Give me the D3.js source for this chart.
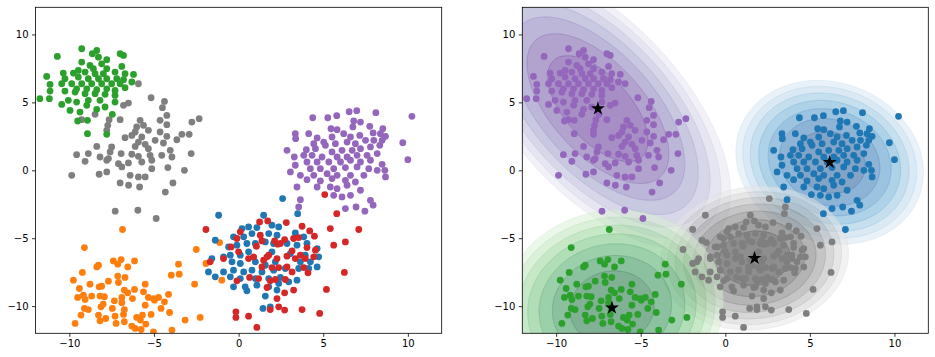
<!DOCTYPE html>
<html><head><meta charset="utf-8">
<script src="https://cdn.jsdelivr.net/npm/d3@7"></script>
<style>
body{margin:0;background:#fff}
svg{display:block}
</style>
</head><body>
<svg id="chart" width="935" height="357"></svg>
<script>
// ---------- data ----------
const greenPts = [[-9.27,8.95],[-10.71,8.38],[-8.64,8.58],[-8.38,8.82],[-8.28,8.33],[-7.00,8.58],[-6.80,8.46],[-7.79,8.14],[-9.27,7.97],[-8.78,7.72],[-8.09,7.84],[-8.58,7.48],[-7.79,7.48],[-6.90,7.65],[-9.47,7.35],[-10.36,7.16],[-9.76,7.16],[-9.07,7.23],[-8.48,7.11],[-7.99,7.11],[-7.30,7.23],[-6.71,7.11],[-6.21,7.06],[-11.34,6.91],[-10.26,6.74],[-9.47,6.86],[-8.88,6.74],[-8.28,6.74],[-7.79,6.74],[-7.20,6.74],[-6.80,6.67],[-6.31,6.50],[-11.14,6.32],[-10.45,6.37],[-9.86,6.37],[-9.27,6.37],[-8.68,6.37],[-8.09,6.37],[-7.50,6.37],[-7.00,6.37],[-9.57,6.00],[-8.97,6.00],[-8.38,5.93],[-7.79,6.00],[-7.30,5.88],[-6.71,6.08],[-11.14,5.83],[-10.26,5.83],[-9.66,5.76],[-9.07,5.64],[-8.48,5.64],[-7.89,5.59],[-7.30,5.51],[-11.74,5.27],[-11.18,5.27],[-10.06,5.15],[-9.57,5.02],[-8.88,5.15],[-8.19,5.15],[-7.30,5.02],[-10.45,4.85],[-8.97,4.78],[-9.96,4.41],[-8.38,4.49],[-7.89,4.66],[-9.37,4.29],[-7.46,4.12],[-9.51,3.63],[-8.93,3.68],[-8.93,2.70],[-7.79,2.65]];
const greyPts = [[-5.92,6.37],[-5.17,5.34],[-4.38,5.07],[-6.51,4.95],[-6.80,4.78],[-4.50,4.61],[-4.24,4.04],[-8.48,4.12],[-9.27,3.73],[-7.00,3.73],[-7.65,3.73],[-5.82,3.68],[-4.64,3.68],[-2.76,3.55],[-2.33,3.80],[-7.73,3.31],[-6.02,3.19],[-5.62,3.31],[-4.24,3.36],[-7.79,2.94],[-5.33,2.94],[-6.11,2.82],[-6.71,2.40],[-6.31,2.57],[-5.72,2.45],[-4.64,2.82],[-4.24,2.50],[-3.35,2.65],[-2.92,2.65],[-3.65,2.25],[-5.92,2.08],[-4.93,2.21],[-4.44,2.01],[-8.38,1.76],[-7.50,1.72],[-6.11,1.76],[-5.52,1.91],[-5.33,1.59],[-4.04,1.47],[-7.59,1.35],[-6.94,1.23],[-6.31,1.18],[-9.57,1.15],[-8.88,1.23],[-8.19,0.98],[-7.69,0.86],[-5.92,1.03],[-5.23,1.10],[-4.54,1.10],[-2.80,1.23],[-3.94,0.98],[-9.07,0.66],[-7.10,0.49],[-6.51,0.54],[-5.72,0.61],[-5.13,0.74],[-7.79,0.74],[-6.90,0.25],[-5.13,0.12],[-4.18,0.20],[-3.20,0.00],[-9.86,-0.37],[-8.24,-0.29],[-7.79,-0.12],[-6.41,-0.37],[-5.92,-0.49],[-5.52,-0.49],[-7.00,-0.93],[-6.50,-1.10],[-5.85,-1.23],[-4.33,-1.60],[-3.88,-0.93],[-7.29,-3.01],[-5.95,-2.94],[-4.87,-3.55]];
const purplePts = [[4.38,3.87],[5.27,3.87],[5.80,4.02],[6.53,4.31],[6.98,4.39],[8.11,4.24],[10.24,3.97],[6.80,3.63],[7.20,3.55],[6.75,3.19],[7.75,3.24],[5.46,3.06],[5.82,2.99],[8.52,3.06],[3.35,2.70],[4.14,2.70],[4.64,2.38],[5.03,2.08],[5.52,2.45],[6.21,2.70],[6.61,2.45],[7.16,2.57],[7.95,2.75],[8.38,2.70],[8.68,2.50],[9.70,2.03],[3.37,2.33],[4.44,1.96],[5.13,1.84],[5.72,1.96],[6.41,2.08],[6.90,1.96],[7.50,2.21],[7.99,2.21],[8.48,2.21],[2.86,1.47],[4.00,1.52],[4.54,1.59],[5.52,1.35],[6.11,1.47],[6.71,1.47],[7.20,1.59],[7.79,1.72],[8.34,1.84],[3.29,0.98],[3.85,1.10],[4.34,1.10],[4.93,0.98],[5.82,0.98],[6.41,0.98],[7.00,1.10],[7.59,1.10],[8.19,1.23],[10.0,0.78],[4.04,0.61],[4.64,0.61],[5.33,0.61],[6.02,0.61],[6.61,0.74],[7.20,0.61],[7.79,0.74],[8.48,0.44],[3.35,0.37],[3.06,-0.12],[4.24,0.12],[4.83,0.12],[5.62,0.12],[6.31,0.20],[7.00,0.25],[7.69,0.12],[8.19,0.00],[8.64,0.00],[3.65,-0.37],[4.44,-0.37],[5.23,-0.25],[5.82,-0.37],[6.61,-0.37],[7.40,-0.37],[8.68,-0.49],[4.04,-0.69],[4.83,-0.78],[5.52,-0.61],[6.31,-0.74],[6.90,-0.86],[3.45,-1.23],[4.64,-1.23],[5.42,-1.23],[6.41,-1.10],[7.20,-1.47],[3.65,-2.16],[5.62,-1.84],[6.11,-1.96],[6.61,-1.84],[7.79,-2.21],[3.55,-2.70],[6.31,-2.82],[6.94,-2.70],[7.46,-3.01],[7.95,-2.57],[5.82,-1.35]];
const bluePts = [[2.60,-2.08],[3.49,-3.19],[-1.18,-3.31],[1.48,-3.31],[-1.38,-5.15],[0.20,-4.29],[0.59,-4.17],[1.08,-4.22],[1.97,-4.04],[2.37,-4.17],[-0.30,-4.90],[0.30,-4.90],[0.79,-4.66],[1.78,-4.66],[2.27,-4.78],[3.35,-4.61],[3.85,-4.90],[4.64,-5.76],[-0.59,-5.64],[-0.10,-5.51],[0.49,-5.39],[0.99,-5.39],[1.58,-5.27],[2.07,-5.39],[2.86,-5.39],[3.45,-5.51],[4.04,-5.39],[-0.49,-6.25],[0.10,-6.25],[0.59,-6.00],[1.97,-6.00],[3.06,-6.13],[3.94,-6.25],[4.73,-6.37],[-1.58,-6.50],[-0.89,-6.37],[-0.39,-6.74],[0.10,-6.86],[0.99,-6.74],[1.58,-6.99],[2.17,-6.74],[3.65,-6.74],[4.24,-6.74],[-1.78,-7.48],[-1.38,-7.84],[-0.89,-7.48],[-0.30,-7.35],[0.30,-7.48],[0.79,-7.35],[1.38,-7.48],[2.07,-7.35],[2.76,-7.23],[3.55,-7.23],[4.14,-7.23],[4.64,-7.11],[-0.49,-7.84],[0.10,-7.97],[0.99,-7.97],[1.78,-7.97],[2.47,-7.89],[3.45,-8.09],[-0.30,-8.58],[0.39,-8.58],[1.08,-8.46],[1.78,-8.58],[2.37,-8.33],[2.96,-8.21],[0.49,-8.87],[1.58,-9.26],[2.27,-8.82],[1.44,-10.17],[1.87,-10.05]];
const redPts = [[5.09,-1.79],[5.80,-3.19],[7.10,-4.36],[-1.93,-4.36],[1.24,-3.80],[1.72,-3.73],[2.82,-3.85],[0.10,-4.53],[1.28,-4.78],[3.75,-4.12],[4.20,-4.46],[4.48,-4.85],[5.42,-4.29],[6.31,-5.27],[5.62,-5.51],[-0.10,-5.02],[1.38,-5.20],[2.13,-5.20],[2.31,-5.44],[2.72,-5.10],[3.25,-5.02],[3.55,-4.95],[-0.45,-5.64],[0.00,-6.00],[1.05,-5.59],[1.68,-6.37],[2.47,-5.39],[3.16,-5.93],[4.04,-5.69],[4.54,-5.88],[4.44,-6.37],[-1.68,-6.74],[-0.89,-6.50],[0.59,-6.50],[0.89,-6.37],[1.48,-6.62],[1.78,-6.25],[2.27,-6.50],[2.86,-6.32],[3.35,-6.50],[3.65,-6.25],[3.94,-6.50],[1.38,-7.11],[1.97,-7.16],[2.37,-7.16],[2.86,-7.11],[3.85,-7.16],[4.10,-7.55],[3.16,-7.48],[0.65,-7.89],[1.18,-7.97],[1.87,-8.14],[2.17,-8.04],[2.76,-8.04],[-0.10,-8.14],[6.25,-7.52],[1.68,-8.63],[2.27,-9.44],[2.72,-9.02],[3.25,-8.82],[5.19,-8.77],[1.87,-10.25],[2.37,-10.05],[2.72,-10.29],[3.75,-10.25],[4.79,-10.54],[-0.16,-10.42],[-0.16,-10.83],[0.59,-10.74],[1.08,-11.57]];
const orangePts = [[-6.86,-4.36],[-9.11,-5.69],[-2.50,-5.83],[-7.40,-6.67],[-6.94,-6.57],[-6.15,-6.67],[-8.38,-7.11],[-8.28,-6.99],[-7.14,-6.91],[-6.55,-7.11],[-3.55,-6.91],[-1.93,-6.86],[-9.23,-7.52],[-9.76,-8.09],[-7.14,-7.79],[-6.71,-7.89],[-3.98,-7.72],[-3.51,-7.65],[-7.69,-8.16],[-8.78,-8.38],[-8.24,-8.58],[-8.09,-8.53],[-7.10,-8.26],[-5.52,-8.38],[-2.60,-8.38],[-9.41,-8.70],[-6.75,-8.82],[-6.15,-8.77],[-9.51,-9.36],[-9.17,-9.19],[-9.07,-9.51],[-8.68,-9.26],[-8.19,-9.26],[-7.93,-9.31],[-7.34,-9.61],[-6.90,-9.36],[-6.55,-9.02],[-6.27,-9.44],[-5.62,-8.95],[-5.33,-9.36],[-5.03,-9.44],[-4.73,-9.36],[-4.14,-9.14],[-4.38,-9.68],[-8.13,-10.05],[-8.00,-9.85],[-6.90,-9.75],[-5.52,-9.93],[-4.97,-9.56],[-9.11,-10.17],[-8.88,-10.25],[-7.46,-10.17],[-6.75,-10.25],[-4.58,-10.17],[-4.08,-10.47],[-9.31,-10.66],[-8.28,-10.66],[-7.30,-10.74],[-6.80,-10.61],[-6.02,-10.83],[-5.68,-10.66],[-5.17,-10.61],[-3.16,-11.03],[-2.27,-10.83],[-9.66,-11.27],[-8.19,-11.08],[-7.85,-10.91],[-7.24,-11.27],[-6.75,-11.15],[-6.31,-11.47],[-5.80,-11.03],[-5.48,-11.32],[-6.11,-11.64],[-5.76,-11.72],[-5.03,-11.90],[-3.94,-11.76],[-1.12,-5.32],[-0.99,-8.09]];

const leftGroups = ["grey","orange","green","purple","blue","red"];
const groupColors = {blue:"#1f77b4",orange:"#ff7f0e",green:"#2ca02c",red:"#d62728",purple:"#9467bd",grey:"#7f7f7f"};

// Gaussian mixture components (right panel)
const compNames   = ["purple","blue","grey","green"];
const compWeights = [0.31,0.22,0.30,0.17];
const compMeans   = [[-7.53,4.54],[6.17,0.59],[1.73,-6.47],[-6.70,-10.12]];
const compCovs    = [[[4.4,-3.5],[-3.5,7.6]],[[2.2,-0.3],[-0.3,2.6]],[[2.2,0.15],[0.15,2.0]],[[3.1,0.2],[0.2,3.7]]];
const compCmaps   = ["Purples","Blues","Greys","Greens"];

const xTicks = [-10,-5,0,5,10];
const yTicks = [-10,-5,0,5,10];
const domain = [-12,12];

// ---------- layout ----------
const svg = d3.select("#chart");
const panelH = {top:7.3, bottom:333.3};
const panels = [{left:35.5,right:441.7},{left:522.3,right:928.3}];
const ptsByGroup = {green:greenPts,grey:greyPts,purple:purplePts,blue:bluePts,red:redPts,orange:orangePts};

function fmt(d){ return d<0 ? "\u2212"+Math.abs(d) : String(d); }

function makeAxes(p, idx){
  const x = d3.scaleLinear().domain(domain).range([p.left,p.right]);
  const y = d3.scaleLinear().domain(domain).range([panelH.bottom,panelH.top]);
  const g = svg.append("g");
  g.append("clipPath").attr("id","clip"+idx).append("rect")
    .attr("x",p.left).attr("y",panelH.top).attr("width",p.right-p.left).attr("height",panelH.bottom-panelH.top);
  return {x,y,g};
}

function drawAxes(a){
  const gx = a.g.append("g").attr("transform",`translate(0,${panelH.bottom})`)
    .call(d3.axisBottom(a.x).tickValues(xTicks).tickSize(3.5).tickPadding(3.5).tickFormat(fmt));
  const gy = a.g.append("g").attr("transform",`translate(${a.x.range()[0]},0)`)
    .call(d3.axisLeft(a.y).tickValues(yTicks).tickSize(3.5).tickPadding(3.5).tickFormat(fmt));
  [gx,gy].forEach(s=>{
    s.select(".domain").remove();
    s.attr("font-family","DejaVu Sans").attr("font-size",10);
    s.selectAll("line").attr("stroke","#000").attr("stroke-width",0.8);
    s.selectAll("text").attr("fill","#000");
  });
  const [x0,x1]=a.x.range();
  a.g.append("rect").attr("x",x0).attr("y",panelH.top).attr("width",x1-x0).attr("height",panelH.bottom-panelH.top)
    .attr("fill","none").attr("stroke","#000").attr("stroke-width",0.8);
}

const R = 3.4;

// ---------- left panel ----------
const A = makeAxes(panels[0],0);
const lp = A.g.append("g").attr("clip-path","url(#clip0)");
leftGroups.forEach(name=>{
  lp.selectAll(null).data(ptsByGroup[name]).enter().append("circle")
    .attr("cx",d=>A.x(d[0])).attr("cy",d=>A.y(d[1])).attr("r",R).attr("fill",groupColors[name]);
});
drawAxes(A);

// ---------- right panel ----------
const B = makeAxes(panels[1],1);
const rp = B.g.append("g").attr("clip-path","url(#clip1)");

function eig2(c){
  const a=c[0][0], b=c[0][1], d=c[1][1];
  const tr=a+d, det=a*d-b*b, disc=Math.sqrt(tr*tr/4-det);
  const l1=tr/2+disc, l2=tr/2-disc;
  let v1 = Math.abs(b)>1e-12 ? [l1-d,b] : (a>=d?[1,0]:[0,1]);
  const n=Math.hypot(v1[0],v1[1]); v1=[v1[0]/n,v1[1]/n];
  const v2=[-v1[1],v1[0]];
  return {l1,l2,v1,v2};
}
function ellipsePts(mean,cov,dist){
  const e=eig2(cov), s1=Math.sqrt(e.l1)*dist, s2=Math.sqrt(e.l2)*dist;
  return d3.range(0,360,2).map(t=>{
    const c=Math.cos(t*Math.PI/180), s=Math.sin(t*Math.PI/180);
    return [mean[0]+e.v1[0]*s1*c+e.v2[0]*s2*s, mean[1]+e.v1[1]*s1*c+e.v2[1]*s2*s];
  });
}
const line = d3.line().x(d=>B.x(d[0])).y(d=>B.y(d[1])).curve(d3.curveLinearClosed);

const nBands = 7;           // number of filled bands
const distStep = 2.0;       // squared-distance step between contour levels
compNames.forEach((name,i)=>{
  const cmap = d3["interpolate"+compCmaps[i]];
  const g = rp.append("g");
  for(let k=nBands;k>=1;k--){
    const outer = ellipsePts(compMeans[i],compCovs[i],Math.sqrt(k*distStep));
    const inner = k>1 ? ellipsePts(compMeans[i],compCovs[i],Math.sqrt((k-1)*distStep)) : null;
    const t = 0.9 - (k-1)*0.12;
    g.append("path").attr("d", line(outer)+(inner?line(inner.slice().reverse()):""))
      .attr("fill-rule","evenodd").attr("fill",cmap(t)).attr("fill-opacity",0.5);
    g.append("path").attr("d", line(outer)).attr("fill","none")
      .attr("stroke",cmap(Math.min(1,t+0.1))).attr("stroke-opacity",0.3).attr("stroke-width",0.8);
  }
});

// GMM prediction for colouring the right panel points
function logp(pt,i){
  const c=compCovs[i], m=compMeans[i];
  const det=c[0][0]*c[1][1]-c[0][1]*c[0][1];
  const dx=pt[0]-m[0], dy=pt[1]-m[1];
  const q=(c[1][1]*dx*dx-2*c[0][1]*dx*dy+c[0][0]*dy*dy)/det;
  return Math.log(compWeights[i])-0.5*Math.log(det)-0.5*q;
}
const allPts = [].concat(...leftGroups.map(n=>ptsByGroup[n]));
rp.selectAll(null).data(allPts).enter().append("circle")
  .attr("cx",d=>B.x(d[0])).attr("cy",d=>B.y(d[1])).attr("r",R)
  .attr("fill",d=>{
    let best=0,bv=-Infinity;
    compNames.forEach((n,i)=>{const v=logp(d,i); if(v>bv){bv=v;best=i;}});
    return groupColors[compNames[best]];
  });
rp.selectAll(null).data(compMeans).enter().append("path")
  .attr("d",d3.symbol(d3.symbolStar,60)())
  .attr("transform",d=>`translate(${B.x(d[0])},${B.y(d[1])})`)
  .attr("fill","#000");
drawAxes(B);
</script>
</body></html>
